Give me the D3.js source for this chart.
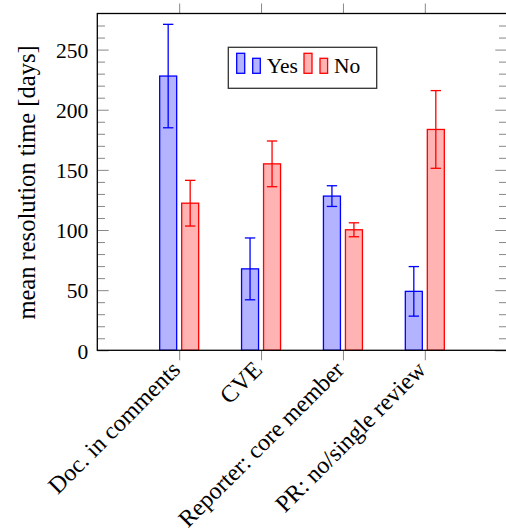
<!DOCTYPE html>
<html>
<head>
<meta charset="utf-8">
<script src="https://cdn.jsdelivr.net/npm/d3@7"></script>
<style>
    body { margin: 0; background: #fff; }
    svg { display: block; }
    svg text { font-family: "Liberation Serif", "DejaVu Serif", serif; }
</style>
</head>
<body>
<div id="chart"></div>
<script>
// data
const categories = ["Doc. in comments", "CVE", "Reporter: core member", "PR: no/single review"];
const yesMeans = [228, 67.7, 128.2, 49];
const yesErrors = [43, 25.7, 8.6, 20.6];
const noMeans = [122.3, 155, 100.2, 183.6];
const noErrors = [19, 19, 5.8, 32.3];
const yTicks = [0, 50, 100, 150, 200, 250];
const seriesNames = ["Yes", "No"];

const width = 506, height = 531;
const plotLeft = 97.3, plotRight = 506.7, plotTop = 13.5, plotBottom = 350.3;
const barWidth = 17, barOffset = 11;
const tickColor = "#888";
const serif = "'Liberation Serif', 'DejaVu Serif', serif";

const series = [
    { name: seriesNames[0], means: yesMeans, errors: yesErrors, fill: "#b3b3ff", stroke: "#0000ff", offset: -barOffset },
    { name: seriesNames[1], means: noMeans, errors: noErrors, fill: "#ffb3b3", stroke: "#ff0000", offset: barOffset }
];

const svg = d3.select("#chart")
    .append("svg")
    .attr("width", width)
    .attr("height", height)
    .attr("font-family", serif);

// Scales
const xScale = d3.scalePoint().domain(categories).range([plotLeft, plotRight]).padding(1);
const yScale = d3.scaleLinear().domain([0, 280]).range([plotBottom, plotTop]);

// y axis: major + minor ticks, drawn inside the box on both sides
const minorValues = d3.range(10, 280, 10).filter(v => v % 50 !== 0);
const yAxis = d3.axisLeft(yScale).tickValues(yTicks).tickSizeInner(-11.4).tickSizeOuter(0).tickPadding(9);
const yMinor = d3.axisLeft(yScale).tickValues(minorValues).tickSize(-7.7).tickFormat("");
const yRight = d3.axisRight(yScale).tickValues(yTicks).tickSizeInner(-11.4).tickSizeOuter(0).tickFormat("");
const yRightMinor = d3.axisRight(yScale).tickValues(minorValues).tickSize(-7.7).tickFormat("");

function styleAxis(g) {
    g.attr("font-family", serif).attr("font-size", 21.5);
    g.select(".domain").remove();
    g.selectAll("line").attr("stroke", tickColor).attr("stroke-width", 1);
    g.selectAll("text").attr("fill", "#000");
}

svg.append("g").attr("transform", `translate(${plotLeft},0)`).call(yAxis).call(styleAxis)
    .selectAll("text").attr("dy", "0.36em");
svg.append("g").attr("transform", `translate(${plotLeft},0)`).call(yMinor).call(styleAxis);
svg.append("g").attr("transform", `translate(${plotRight},0)`).call(yRight).call(styleAxis);
svg.append("g").attr("transform", `translate(${plotRight},0)`).call(yRightMinor).call(styleAxis);

// x axis: ticks outside, on top and bottom
svg.append("g")
    .attr("transform", `translate(0,${plotTop})`)
    .call(d3.axisTop(xScale).tickSize(10).tickFormat(""))
    .call(styleAxis);

const xAxisG = svg.append("g")
    .attr("transform", `translate(0,${plotBottom})`)
    .call(d3.axisBottom(xScale).tickSize(10).tickPadding(0))
    .call(styleAxis)
    .attr("font-size", 24);

xAxisG.selectAll(".tick text")
    .attr("text-anchor", "end")
    .attr("y", 0)
    .attr("dy", "0.35em")
    .attr("transform", "translate(-4,15) rotate(-45)");

// bars
const groups = svg.selectAll(".series")
    .data(series)
    .enter()
    .append("g")
    .attr("class", "series");

groups.selectAll("rect")
    .data(s => categories.map((c, i) => ({ cat: c, mean: s.means[i], err: s.errors[i], s: s })))
    .enter()
    .append("rect")
    .attr("x", d => xScale(d.cat) + d.s.offset - barWidth / 2)
    .attr("y", d => yScale(d.mean))
    .attr("width", barWidth)
    .attr("height", d => yScale(0) - yScale(d.mean))
    .attr("fill", d => d.s.fill)
    .attr("stroke", d => d.s.stroke)
    .attr("stroke-width", 1.3);

// error bars
const errG = groups.selectAll(".err")
    .data(s => categories.map((c, i) => ({ cat: c, mean: s.means[i], err: s.errors[i], s: s })))
    .enter()
    .append("g")
    .attr("class", "err")
    .attr("stroke", d => d.s.stroke)
    .attr("stroke-width", 1.3);

errG.append("line")
    .attr("x1", d => xScale(d.cat) + d.s.offset)
    .attr("x2", d => xScale(d.cat) + d.s.offset)
    .attr("y1", d => yScale(d.mean - d.err))
    .attr("y2", d => yScale(d.mean + d.err));

errG.selectAll(".cap")
    .data(d => [d.mean - d.err, d.mean + d.err].map(v => ({ v: v, d: d })))
    .enter()
    .append("line")
    .attr("x1", c => xScale(c.d.cat) + c.d.s.offset - 5.2)
    .attr("x2", c => xScale(c.d.cat) + c.d.s.offset + 5.2)
    .attr("y1", c => yScale(c.v))
    .attr("y2", c => yScale(c.v));

// box
svg.append("rect")
    .attr("x", plotLeft)
    .attr("y", plotTop)
    .attr("width", plotRight - plotLeft)
    .attr("height", plotBottom - plotTop)
    .attr("fill", "none")
    .attr("stroke", "#000")
    .attr("stroke-width", 1.3);

// y label
svg.append("text")
    .attr("transform", `translate(35,${(43 + 322) / 2}) rotate(-90)`)
    .attr("text-anchor", "middle")
    .attr("font-size", 24.5)
    .text("mean resolution time [days]");

// legend
const legend = svg.append("g").attr("transform", "translate(228.3,47.3)");
legend.append("rect")
    .attr("width", 148.4)
    .attr("height", 41)
    .attr("fill", "#fff")
    .attr("stroke", "#333")
    .attr("stroke-width", 1.3);

const legendX = [8.4, 75.7];
series.forEach((s, i) => {
    const lg = legend.append("g").attr("transform", `translate(${legendX[i]},0)`);
    lg.append("rect").attr("x", 0).attr("y", 6).attr("width", 8).attr("height", 20)
        .attr("fill", s.fill).attr("stroke", s.stroke).attr("stroke-width", 1.3);
    lg.append("rect").attr("x", 16).attr("y", 11).attr("width", 7.6).attr("height", 15)
        .attr("fill", s.fill).attr("stroke", s.stroke).attr("stroke-width", 1.3);
    lg.append("text").attr("x", 30).attr("y", 26).attr("font-size", 21.5).text(s.name);
});
</script>
</body>
</html>
